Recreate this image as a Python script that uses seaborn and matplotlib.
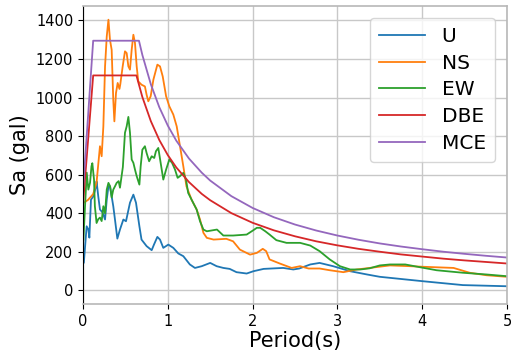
import numpy as np
import pandas as pd
import matplotlib
matplotlib.use("Agg")
import matplotlib.pyplot as plt
import seaborn as sns

# ---- data ----
U_T = [0.01, 0.043, 0.063, 0.075, 0.094, 0.122, 0.153, 0.16, 0.18, 0.2, 0.232, 0.26, 0.28, 0.30, 0.318,
       0.338, 0.357, 0.377, 0.405, 0.436, 0.476, 0.507, 0.554, 0.594, 0.625, 0.665, 0.69, 0.75, 0.81,
       0.837, 0.877, 0.908, 0.947, 1.006, 1.065, 1.124, 1.183, 1.26, 1.32, 1.40, 1.50, 1.576, 1.655,
       1.73, 1.81, 1.93, 2.01, 2.13, 2.36, 2.48, 2.55, 2.68, 2.79, 2.95, 3.15, 3.35, 3.50, 4.01, 4.48, 5.0]
U_Sa = [145, 333, 316, 274, 471, 488, 540, 566, 488, 420, 404, 368, 471, 540, 540,
        488, 437, 368, 269, 316, 368, 359, 455, 497, 455, 333, 264, 230, 209,
        238, 278, 264, 221, 238, 221, 192, 178, 135, 117, 126, 143, 126, 117,
        112, 95, 88, 100, 112, 117, 109, 114, 135, 143, 126, 100, 83, 71, 48, 28, 22]

NS_T = [0.01, 0.06, 0.12, 0.16, 0.2, 0.22, 0.24, 0.26, 0.28, 0.30, 0.318, 0.338, 0.357, 0.37, 0.389,
        0.409, 0.43, 0.44, 0.468, 0.495, 0.515, 0.535, 0.554, 0.574, 0.594, 0.613, 0.633, 0.652,
        0.69, 0.73, 0.75, 0.77, 0.798, 0.83, 0.877, 0.908, 0.94, 0.98, 1.018, 1.065, 1.105, 1.144,
        1.183, 1.22, 1.28, 1.34, 1.38, 1.42, 1.46, 1.54, 1.69, 1.77, 1.85, 1.97, 2.05, 2.12, 2.16,
        2.2, 2.32, 2.46, 2.56, 2.66, 2.79, 2.91, 3.07, 3.23, 3.38, 3.62, 3.86, 4.01, 4.37, 4.56,
        4.76, 5.0]
NS_Sa = [455, 470, 500, 560, 748, 696, 851, 1162, 1317, 1404, 1300, 1248, 989, 877, 1024,
         1076, 1045, 1070, 1162, 1240, 1231, 1162, 1145, 1248, 1326, 1283, 1162, 1084,
         1067, 1058, 1015, 981, 1007, 1093, 1171, 1162, 1110, 1007, 955, 912, 851, 748,
         644, 540, 471, 420, 368, 299, 273, 264, 268, 255, 212, 186, 195, 216, 204,
         161, 140, 117, 126, 114, 114, 105, 95, 109, 117, 130, 126, 123, 117, 92,
         79, 71]

EW_T = [0.005, 0.024, 0.044, 0.063, 0.083, 0.10, 0.11, 0.13, 0.14, 0.16, 0.18, 0.2, 0.22, 0.24, 0.26,
        0.28, 0.30, 0.32, 0.338, 0.357, 0.377, 0.397, 0.42, 0.436, 0.47, 0.495, 0.515, 0.535, 0.554,
        0.574, 0.594, 0.613, 0.633, 0.665, 0.68, 0.70, 0.73, 0.75, 0.78, 0.81, 0.84, 0.86, 0.888,
        0.916, 0.947, 0.98, 1.018, 1.05, 1.085, 1.116, 1.144, 1.183, 1.215, 1.24, 1.30, 1.34, 1.38,
        1.42, 1.46, 1.58, 1.655, 1.77, 1.93, 2.0, 2.05, 2.09, 2.15, 2.2, 2.28, 2.40, 2.56, 2.68,
        2.79, 2.91, 3.03, 3.15, 3.27, 3.38, 3.5, 3.62, 3.8, 3.97, 4.17, 4.48, 4.76, 5.0]
EW_Sa = [264, 437, 611, 523, 559, 644, 660, 575, 437, 350, 370, 378, 360, 437, 400,
         523, 558, 540, 482, 523, 540, 558, 567, 533, 640, 818, 851, 900, 818,
         679, 662, 627, 593, 549, 644, 730, 748, 713, 670, 696, 687, 722, 739,
         661, 575, 627, 679, 662, 627, 584, 593, 610, 575, 506, 454, 420, 359,
         316, 307, 316, 285, 285, 290, 310, 325, 325, 307, 290, 261, 247, 247, 233,
         204, 161, 126, 109, 109, 115, 130, 135, 135, 121, 105, 92, 83, 74]

DBE_T = [0.0, 0.12, 0.63, 0.7, 0.8, 0.9, 1.0, 1.1, 1.25, 1.4, 1.5, 1.75, 2.0, 2.25, 2.5, 2.75, 3.0,
         3.25, 3.5, 3.75, 4.0, 4.25, 4.5, 4.75, 5.0]
DBE_Sa = [446, 1115, 1115, 1003, 878, 780, 702, 638, 562, 501, 468, 401, 351, 312, 281, 255, 234,
          216, 201, 187, 176, 165, 156, 148, 140]

MCE_T = [0.0, 0.12, 0.66, 0.7, 0.8, 0.9, 1.0, 1.1, 1.25, 1.4, 1.5, 1.75, 2.0, 2.25, 2.5, 2.75, 3.0,
         3.25, 3.5, 3.75, 4.0, 4.25, 4.5, 4.75, 5.0]
MCE_Sa = [518, 1295, 1295, 1221, 1069, 950, 855, 777, 684, 611, 570, 489, 428, 380, 342, 311, 285,
          263, 244, 228, 214, 201, 190, 180, 171]

series_names = ["U", "NS", "EW", "DBE", "MCE"]
x_ticks = [0, 1, 2, 3, 4, 5]
y_ticks = [0, 200, 400, 600, 800, 1000, 1200, 1400]

frames = []
for name, t, s in zip(series_names,
                      [U_T, NS_T, EW_T, DBE_T, MCE_T],
                      [U_Sa, NS_Sa, EW_Sa, DBE_Sa, MCE_Sa]):
    frames.append(pd.DataFrame({"Period": t, "Sa": s, "series": name}))
df = pd.concat(frames, ignore_index=True)

# ---- figure ----
fig = plt.figure(figsize=(5.13, 3.52), dpi=100)
ax = fig.add_axes([83 / 513, 1 - 304 / 352, (507 - 83) / 513, (304 - 6) / 352])

palette = dict(zip(series_names, sns.color_palette("tab10", 5)))
sns.lineplot(data=df, x="Period", y="Sa", hue="series", hue_order=series_names,
             palette=palette, estimator=None, sort=False, linewidth=1.3, ax=ax)

ax.set_xlim(0, 5)
ax.set_ylim(-70, 1475)
ax.set_xticks(x_ticks)
ax.set_yticks(y_ticks)
ax.tick_params(labelsize=10.5, length=3.5, color="black")
ax.set_xlabel("Period(s)", fontsize=15, labelpad=2)
ax.set_ylabel("Sa (gal)", fontsize=15, labelpad=4)
ax.grid(True, color="#c8c8c8", linewidth=1.0)
ax.set_axisbelow(True)
for side in ["top", "right", "bottom"]:
    ax.spines[side].set_color("#b8b8b8")
    ax.spines[side].set_linewidth(1.2)
ax.spines["left"].set_color("black")

handles, labels = ax.get_legend_handles_labels()
ax.legend(handles, labels, loc="upper right", fontsize=14.5, handlelength=2.25,
          handletextpad=0.85, borderpad=0.45, labelspacing=0.38,
          framealpha=0.8, borderaxespad=0.6)

fig.savefig("out.png", dpi=100)
